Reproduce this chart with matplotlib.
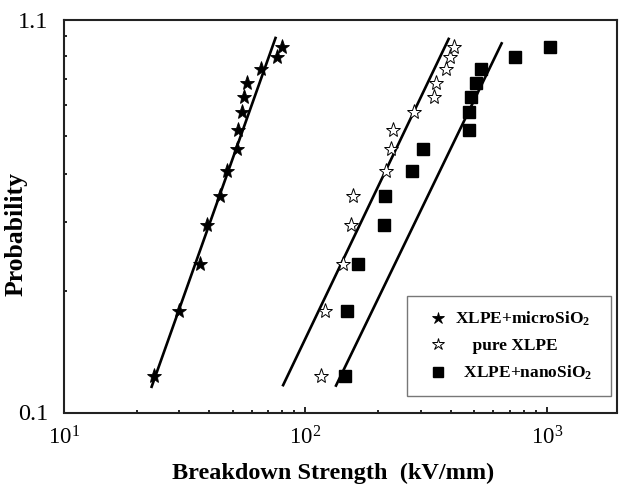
import matplotlib
matplotlib.use('Agg')
import matplotlib.pyplot as plt
from matplotlib.ticker import FixedLocator, NullFormatter, LogLocator

plt.rcParams['font.family'] = 'serif'
plt.rcParams['font.serif'] = ['Liberation Serif', 'DejaVu Serif']
plt.rcParams['mathtext.fontset'] = 'custom'
plt.rcParams['mathtext.rm'] = 'Liberation Serif'
plt.rcParams['mathtext.bf'] = 'Liberation Serif:bold'
plt.rcParams['mathtext.it'] = 'Liberation Serif:italic'

# cumulative probability (same ranks for all three samples)
prob = [0.121, 0.178, 0.235, 0.295, 0.351, 0.407, 0.463,
        0.518, 0.575, 0.628, 0.685, 0.742, 0.797, 0.847]

# breakdown strength, kV/mm
micro_E = [23.7, 29.8, 36.7, 39.1, 44.2, 47.4, 52.1,
           52.7, 54.6, 55.7, 57.2, 65.4, 75.9, 80.2]
pure_E = [116.5, 120.8, 143.0, 155.0, 157.4, 214.9, 226.9,
          230.4, 280.6, 339.5, 347.7, 383.1, 395.4, 411.6]
nano_E = [145.4, 148.6, 164.9, 210.9, 214.3, 276.1, 307.7,
          475.3, 475.3, 486.3, 506.6, 532.3, 734.5, 1025.0]

# fitted lines (end points)
micro_fit_E = [23.06, 75.15]
micro_fit_P = [0.1134, 0.892]
pure_fit_E = [80.8, 391.7]
pure_fit_P = [0.1145, 0.887]
nano_fit_E = [133.8, 649.0]
nano_fit_P = [0.1142, 0.864]

fig = plt.figure(figsize=(6.22, 4.88), dpi=100)
ax = fig.add_axes([64 / 622, 1 - 412.5 / 488, 553 / 622, 392.5 / 488])

ax.plot(micro_fit_E, micro_fit_P, color='k', lw=1.9)
ax.plot(pure_fit_E, pure_fit_P, color='k', lw=1.9)
ax.plot(nano_fit_E, nano_fit_P, color='k', lw=1.9)

ax.plot(micro_E, prob, linestyle='none', marker='*', ms=11,
        mfc='k', mec='k', mew=0.6, label=r'XLPE+microSiO$_\mathbf{2}$')
ax.plot(pure_E, prob, linestyle='none', marker='*', ms=11,
        mfc='white', mec='k', mew=0.7, label='    pure XLPE')
ax.plot(nano_E, prob, linestyle='none', marker='s', ms=8.5,
        mfc='k', mec='k', label=r'  XLPE+nanoSiO$_\mathbf{2}$')

ax.set_xscale('log')
ax.set_yscale('log')
ax.set_xlim(10, 1950)
ax.set_ylim(0.0974, 0.992)

ax.xaxis.set_major_locator(LogLocator(base=10, numticks=10))
ax.xaxis.set_minor_locator(LogLocator(base=10, subs=range(2, 10), numticks=20))
ax.xaxis.set_minor_formatter(NullFormatter())

ax.set_yticks([0.0974, 0.992])
ax.set_yticklabels(['0.1', '1.1'])
ax.yaxis.set_minor_locator(FixedLocator([0.2, 0.3, 0.4, 0.5, 0.6, 0.7, 0.8, 0.9]))
ax.yaxis.set_minor_formatter(NullFormatter())

ax.tick_params(axis='both', which='major', direction='in',
               top=False, right=False, width=1.2)
ax.tick_params(axis='x', which='major', length=4.5, pad=10, labelsize=16.5)
ax.tick_params(axis='y', which='major', length=0, pad=11, labelsize=17.5)
ax.tick_params(axis='both', which='minor', direction='in', length=2.5,
               width=1.2, top=False, right=False)
for sp in ax.spines.values():
    sp.set_linewidth(1.5)
    sp.set_color('#222222')

ax.set_xlabel('Breakdown Strength  (kV/mm)', fontsize=17.5, fontweight='bold')
ax.xaxis.set_label_coords(0.486, -0.127)
ax.set_ylabel('Probability', fontsize=18.5, fontweight='bold')
ax.yaxis.set_label_coords(-0.065, 0.455)

leg = ax.legend(loc='lower left', bbox_to_anchor=(0.620, 0.042, 0.369, 0.251),
                mode='expand', fancybox=False, frameon=True, borderpad=0.8,
                borderaxespad=0.0, labelspacing=0.55, handlelength=2.0,
                handletextpad=0.0, markerscale=0.8,
                prop={'weight': 'bold', 'size': 12.5})
leg.get_frame().set_edgecolor('#555555')
leg.get_frame().set_linewidth(1.0)

plt.savefig('out.png', dpi=100)
